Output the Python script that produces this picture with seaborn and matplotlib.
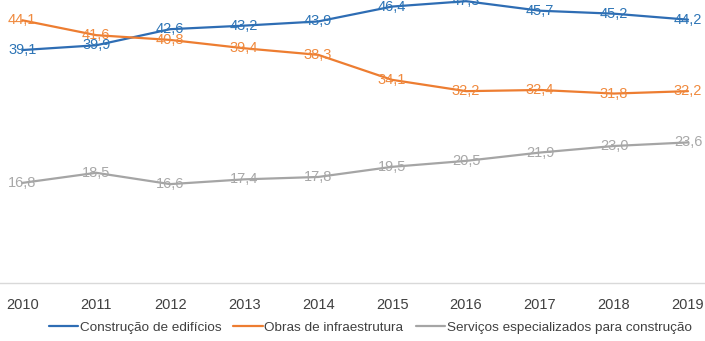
import pandas as pd
import matplotlib.pyplot as plt
import seaborn as sns

# Series values
years = [2010, 2011, 2012, 2013, 2014, 2015, 2016, 2017, 2018, 2019]
edificios = [39.1, 39.9, 42.6, 43.2, 43.9, 46.4, 47.3, 45.7, 45.2, 44.2]
infraestrutura = [44.1, 41.6, 40.8, 39.4, 38.3, 34.1, 32.2, 32.4, 31.8, 32.2]
servicos = [16.8, 18.5, 16.6, 17.4, 17.8, 19.5, 20.5, 21.9, 23.0, 23.6]

series_names = ["Construção de edifícios", "Obras de infraestrutura",
                "Serviços especializados para construção"]
colors = ["#2E6DB4", "#ED7D31", "#A5A5A5"]
label_colors = ["#2E75B6", "#F08A3E", "#A8A8A8"]

df = pd.concat([
    pd.DataFrame({"ano": years, "valor": vals, "serie": name})
    for name, vals in zip(series_names, [edificios, infraestrutura, servicos])
])

sns.set_style("white")
plt.rcParams["font.family"] = ["Liberation Sans", "DejaVu Sans"]

fig = plt.figure(figsize=(7.05, 3.41), dpi=100)
ax = fig.add_axes([0, 0.17, 1, 0.83])

sns.lineplot(data=df, x="ano", y="valor", hue="serie", hue_order=series_names,
             palette=colors, linewidth=1.6, ax=ax, legend=False)

# value labels centred on each point
for name, col in zip(series_names, label_colors):
    sub = df[df["serie"] == name]
    for x, y in zip(sub["ano"], sub["valor"]):
        ax.text(x, y, f"{y:.1f}".replace(".", ","), color=col, fontsize=10.5,
                ha="center", va="center", clip_on=False)

ax.set_xlim(2009.70, 2019.23)
ax.set_ylim(0, 47.5)
ax.set_xticks(years)
ax.set_xticklabels([str(y) for y in years], fontsize=10.5, color="#404040")
ax.set_yticks([])
ax.set_xlabel("")
ax.set_ylabel("")
ax.tick_params(axis="x", length=0, pad=11)
for s in ["top", "left", "right"]:
    ax.spines[s].set_visible(False)
ax.spines["bottom"].set_color("#D9D9D9")
ax.spines["bottom"].set_linewidth(1)

handles = [plt.Line2D([], [], color=c, linewidth=1.6) for c in colors]
fig.legend(handles, series_names, loc="center", bbox_to_anchor=(0.525, 0.04),
           ncol=3, frameon=False, fontsize=9.7, handlelength=2.2,
           handletextpad=0.1, columnspacing=0.9, labelcolor="#404040")

fig.savefig("out.png", dpi=100)
